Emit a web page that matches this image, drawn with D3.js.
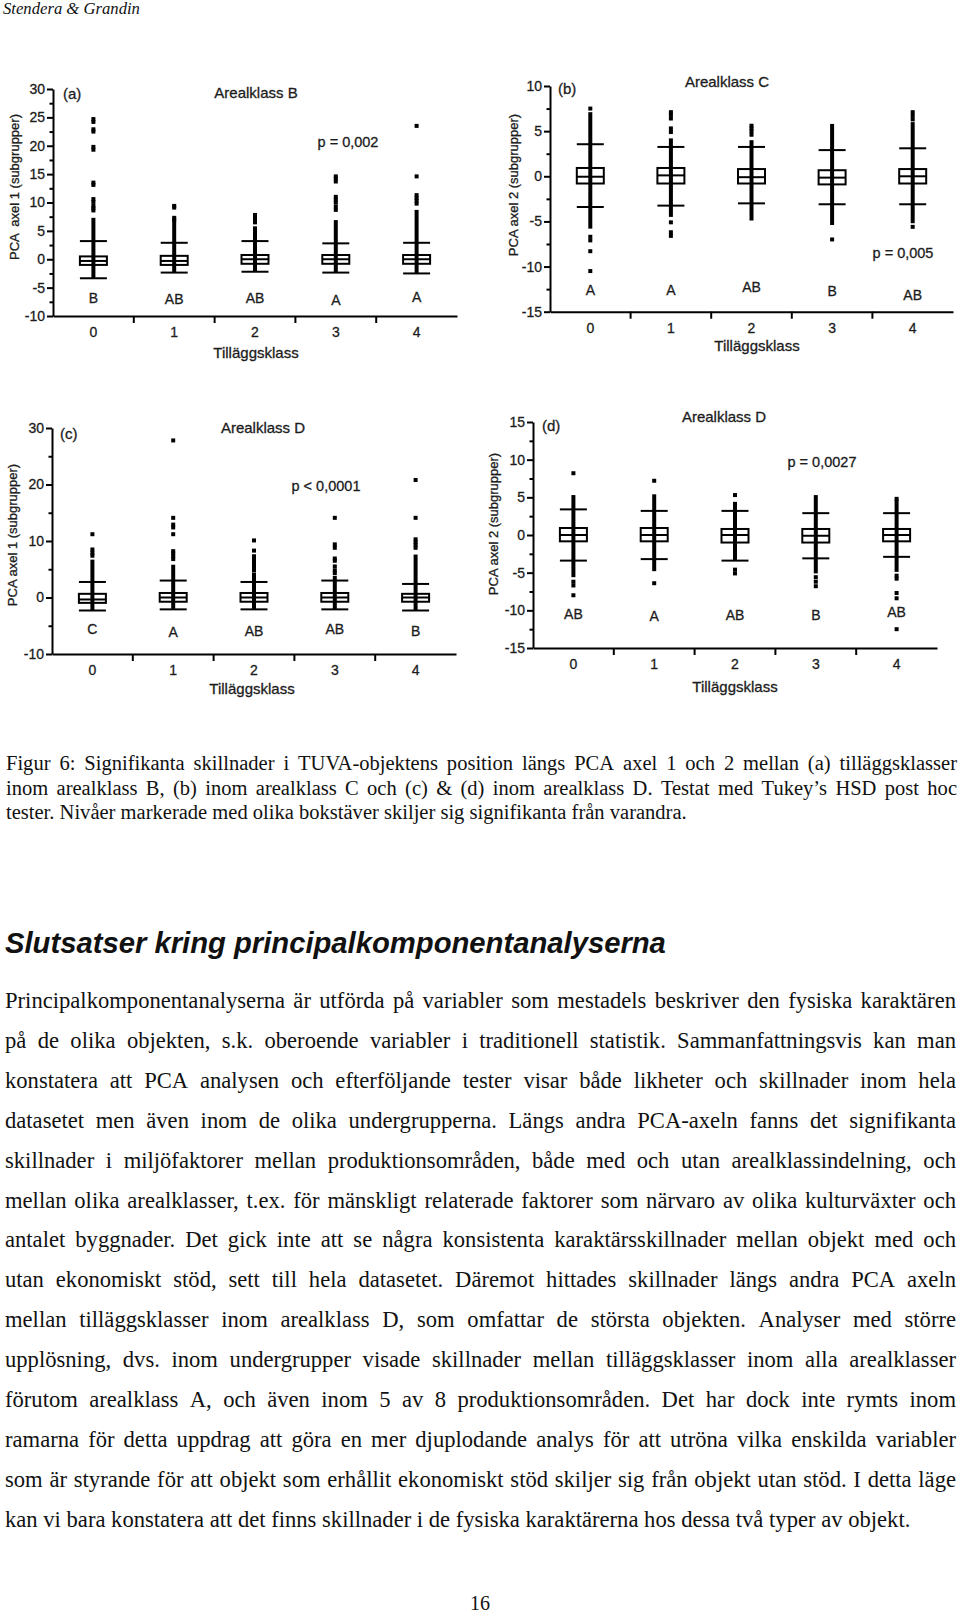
<!DOCTYPE html>
<html>
<head>
<meta charset="utf-8">
<script src="https://cdn.jsdelivr.net/npm/d3@7/dist/d3.min.js"></script>
<style>
  body { margin: 0; background: #fff; }
  svg { display: block; }
  .chart text { font-family: "Liberation Sans", Arial, sans-serif; fill: #1c1c1c; stroke: #1c1c1c; stroke-width: 0.3px; }
  .page text { fill: #111; }
</style>
</head>
<body>
<script>
// categories (tilläggsklass)
var cats = ["0", "1", "2", "3", "4"];

// box stats per class: [lower whisker, q1, median, q3, upper whisker]
var boxesA = [[-3.35, -1.0, -0.3, 0.5, 3.2], [-2.35, -1.0, -0.3, 0.6, 2.9], [-2.2, -0.8, 0, 0.75, 3.2], [-2.35, -0.8, 0, 0.75, 2.8], [-2.5, -0.8, 0, 0.75, 2.9]];
var boxesB = [[-3.4, -0.8, -0.05, 0.92, 3.55], [-3.25, -0.8, 0.1, 0.92, 3.25], [-3.0, -0.8, -0.1, 0.8, 3.25], [-3.1, -0.9, -0.15, 0.67, 2.9], [-3.1, -0.8, 0, 0.8, 3.1]];
var boxesC = [[-2.3, -0.95, -0.35, 0.65, 2.75], [-2.1, -0.75, 0, 0.8, 3.0], [-2.1, -0.75, 0, 0.8, 2.75], [-2.1, -0.75, 0, 0.8, 3.0], [-2.3, -0.75, 0, 0.65, 2.4]];
var boxesD = [[-3.4, -0.84, 0, 0.93, 3.4], [-3.2, -0.84, 0, 0.93, 3.2], [-3.4, -1.0, 0, 0.8, 3.2], [-3.1, -1.0, -0.1, 0.8, 2.9], [-2.9, -0.84, 0, 0.8, 2.9]];

// range where the single points overlap into a solid bar
var denseA = [[-3.35, 7.3], [-2.35, 6.9], [-2.2, 5.8], [-2.35, 6.9], [-2.5, 8.7]];
var denseB = [[-5.8, 7.1], [-4.5, 4.2], [-4.9, 4.0], [-5.4, 5.8], [-5.2, 6.0]];
var denseC = [[-2.3, 6.7], [-2.1, 5.8], [-2.1, 4.4], [-2.1, 3.8], [-2.3, 7.6]];
var denseD = [[-5.6, 5.3], [-4.8, 5.4], [-3.4, 4.4], [-5.1, 5.3], [-4.9, 4.7]];

// separate points
var dotsA = [
  [8.6, 9.0, 9.4, 10.1, 10.6, 13.1, 13.5, 19.3, 19.8, 22.5, 22.9, 24.2, 24.7],
  [7.0, 7.3, 9.1, 9.4],
  [6.5, 7.0, 7.4, 7.8],
  [8.7, 9.3, 10.0, 10.5, 11.0, 13.7, 14.2, 14.6],
  [9.8, 10.3, 10.8, 11.3, 14.6, 23.5]
];
var dotsB = [
  [7.5, -6.7, -7.1, -8.3, -10.5],
  [7.1, 6.8, 6.4, 5.3, 4.9, -5.1, -6.2, -6.6],
  [5.6, 5.3, 5.0, 4.6],
  [-7.0],
  [7.1, 6.7, 6.3, -5.6]
];
var dotsC = [
  [7.4, 7.9, 8.5, 11.2],
  [6.8, 7.3, 7.8, 8.2, 11.2, 12.4, 12.9, 14.1, 27.8],
  [4.8, 5.3, 5.8, 6.3, 6.8, 7.3, 8.3, 10.1],
  [4.3, 4.8, 5.5, 6.5, 6.9, 8.8, 9.4, 14.1],
  [8.8, 9.3, 9.8, 10.3, 14.1, 20.8]
];
var dotsD = [
  [8.2, -6.2, -6.7, -8.0],
  [7.2, -6.4],
  [5.3, -4.6, -5.1],
  [-5.6, -6.2, -6.8],
  [4.8, -5.4, -5.8, -7.7, -8.4, -12.5]
];

// tukey letters
var lettersA = ["B", "AB", "AB", "A", "A"];
var lettersB = ["A", "A", "AB", "B", "AB"];
var lettersC = ["C", "A", "AB", "AB", "B"];
var lettersD = ["AB", "A", "AB", "B", "AB"];

// y tick values
var ticksA = [-10, -5, 0, 5, 10, 15, 20, 25, 30];
var minorA = [-7.5, -2.5, 2.5, 7.5, 12.5, 17.5, 22.5, 27.5];
var ticksB = [-15, -10, -5, 0, 5, 10];
var minorB = [-12.5, -7.5, -2.5, 2.5, 7.5];
var ticksC = [-10, 0, 10, 20, 30];
var minorC = [-5, 5, 15, 25];
var ticksD = [-15, -10, -5, 0, 5, 10, 15];
var minorD = [-12.5, -7.5, -2.5, 2.5, 7.5, 12.5];

// page text
var headerText = "Stendera & Grandin";
var captionLines = [
  "Figur 6: Signifikanta skillnader i TUVA-objektens position längs PCA axel 1 och 2 mellan (a) tilläggsklasser",
  "inom arealklass B, (b) inom arealklass C och (c) & (d) inom arealklass D. Testat med Tukey’s HSD post hoc",
  "tester. Nivåer markerade med olika bokstäver skiljer sig signifikanta från varandra."
];
var headingText = "Slutsatser kring principalkomponentanalyserna";
var bodyLines = [
  "Principalkomponentanalyserna är utförda på variabler som mestadels beskriver den fysiska karaktären",
  "på de olika objekten, s.k. oberoende variabler i traditionell statistik. Sammanfattningsvis kan man",
  "konstatera att PCA analysen och efterföljande tester visar både likheter och skillnader inom hela",
  "datasetet men även inom de olika undergrupperna. Längs andra PCA-axeln fanns det signifikanta",
  "skillnader i miljöfaktorer mellan produktionsområden, både med och utan arealklassindelning, och",
  "mellan olika arealklasser, t.ex. för mänskligt relaterade faktorer som närvaro av olika kulturväxter och",
  "antalet byggnader. Det gick inte att se några konsistenta karaktärsskillnader mellan objekt med och",
  "utan ekonomiskt stöd, sett till hela datasetet. Däremot hittades skillnader längs andra PCA axeln",
  "mellan tilläggsklasser inom arealklass D, som omfattar de största objekten. Analyser med större",
  "upplösning, dvs. inom undergrupper visade skillnader mellan tilläggsklasser inom alla arealklasser",
  "förutom arealklass A, och även inom 5 av 8 produktionsområden. Det har dock inte rymts inom",
  "ramarna för detta uppdrag att göra en mer djuplodande analys för att utröna vilka enskilda variabler",
  "som är styrande för att objekt som erhållit ekonomiskt stöd skiljer sig från objekt utan stöd. I detta läge",
  "kan vi bara konstatera att det finns skillnader i de fysiska karaktärerna hos dessa två typer av objekt."
];
var pageNumber = "16";

var width = 960, height = 1613;

var svg = d3.select("body").append("svg")
  .attr("width", width)
  .attr("height", height);

//panel layout
var panels = [
  { tag: "(a)", title: "Arealklass B", p: "p = 0,002", yLabel: "PCA  axel 1 (subgrupper)",
    boxes: boxesA, dense: denseA, dots: dotsA, letters: lettersA, ticks: ticksA, minor: minorA,
    domain: [-10, 30], x0: 53, x1: 457, top: 89, bottom: 316,
    tagX: 63, tagY: 94, titleX: 256, titleY: 93, pX: 348, pY: 142,
    letterAt: [-6.9, -7.0, -6.9, -7.2, -6.6], yLabX: 14, yLabY: 187, xLabX: 256, xLabY: 353 },
  { tag: "(b)", title: "Arealklass C", p: "p = 0,005", yLabel: "PCA axel 2 (subgrupper)",
    boxes: boxesB, dense: denseB, dots: dotsB, letters: lettersB, ticks: ticksB, minor: minorB,
    domain: [-15, 10], x0: 550, x1: 953, top: 86, bottom: 311.7,
    tagX: 558, tagY: 89, titleX: 727, titleY: 82, pX: 903, pY: 253,
    letterAt: [-12.6, -12.6, -12.3, -12.7, -13.2], yLabX: 513, yLabY: 185, xLabX: 757, xLabY: 346 },
  { tag: "(c)", title: "Arealklass D", p: "p < 0,0001", yLabel: "PCA axel 1 (subgrupper)",
    boxes: boxesC, dense: denseC, dots: dotsC, letters: lettersC, ticks: ticksC, minor: minorC,
    domain: [-10, 30], x0: 52, x1: 456, top: 428, bottom: 654,
    tagX: 60, tagY: 434, titleX: 263, titleY: 428, pX: 326, pY: 486,
    letterAt: [-5.65, -6.05, -5.95, -5.65, -5.95], yLabX: 12, yLabY: 535, xLabX: 252, xLabY: 689 },
  { tag: "(d)", title: "Arealklass D", p: "p = 0,0027", yLabel: "PCA axel 2 (subgrupper)",
    boxes: boxesD, dense: denseD, dots: dotsD, letters: lettersD, ticks: ticksD, minor: minorD,
    domain: [-15, 15], x0: 533, x1: 937, top: 422, bottom: 648,
    tagX: 542, tagY: 426, titleX: 724, titleY: 417, pX: 822, pY: 462,
    letterAt: [-10.45, -10.8, -10.65, -10.65, -10.2], yLabX: 493, yLabY: 524, xLabX: 735, xLabY: 687 }
];

panels.forEach(drawPanel);
drawPage();

function drawPanel(cfg) {
  var g = svg.append("g").attr("class", "chart");

  var x = d3.scaleBand()
    .domain(cats)
    .range([cfg.x0, cfg.x1]);

  var y = d3.scaleLinear()
    .domain(cfg.domain)
    .range([cfg.bottom, cfg.top]);

  var half = 13.5;

  //minor ticks first, then the main axis on top
  g.append("g")
    .attr("transform", "translate(" + cfg.x0 + ",0)")
    .call(d3.axisLeft(y).tickValues(cfg.minor).tickSize(3.5).tickSizeOuter(0).tickFormat(""))
    .call(function(a) { a.select(".domain").remove(); a.selectAll("line").attr("stroke-width", 2); });

  g.append("g")
    .attr("transform", "translate(" + cfg.x0 + ",0)")
    .call(d3.axisLeft(y).tickValues(cfg.ticks).tickSize(6).tickSizeOuter(0).tickPadding(2)
      .tickFormat(function(d) { return String(d); }))
    .call(function(a) {
      a.select(".domain").attr("stroke-width", 2);
      a.selectAll("line").attr("stroke-width", 2);
      a.selectAll("text").attr("font-size", 14).attr("font-family", null);
    });

  //x axis: labels from the band scale, ticks on the band borders
  g.append("g")
    .attr("transform", "translate(0," + cfg.bottom + ")")
    .call(d3.axisBottom(x).tickSize(0).tickSizeOuter(0).tickPadding(11))
    .call(function(a) {
      a.select(".domain").attr("stroke-width", 2);
      a.selectAll("text").attr("font-size", 14).attr("font-family", null);
    });

  g.selectAll(".xtick")
    .data(cats.slice(1))
    .enter().append("line")
    .attr("x1", function(d) { return x(d); })
    .attr("x2", function(d) { return x(d); })
    .attr("y1", cfg.bottom)
    .attr("y2", cfg.bottom + 7)
    .attr("stroke", "#000")
    .attr("stroke-width", 2);

  var grp = g.selectAll(".grp")
    .data(cats)
    .enter().append("g")
    .attr("transform", function(d) { return "translate(" + (x(d) + x.bandwidth() / 2) + ",0)"; });

  //whisker line
  grp.append("line")
    .attr("y1", function(d, i) { return y(cfg.boxes[i][0]); })
    .attr("y2", function(d, i) { return y(cfg.boxes[i][4]); })
    .attr("stroke", "#000")
    .attr("stroke-width", 2.5);

  //solid band of overlapping points
  grp.append("line")
    .attr("y1", function(d, i) { return y(cfg.dense[i][0]); })
    .attr("y2", function(d, i) { return y(cfg.dense[i][1]); })
    .attr("stroke", "#000")
    .attr("stroke-width", 4);

  //box
  grp.append("rect")
    .attr("x", -half)
    .attr("width", half * 2)
    .attr("y", function(d, i) { return y(cfg.boxes[i][3]); })
    .attr("height", function(d, i) { return y(cfg.boxes[i][1]) - y(cfg.boxes[i][3]); })
    .attr("fill", "none")
    .attr("stroke", "#000")
    .attr("stroke-width", 2);

  //median and whisker caps
  [0, 2, 4].forEach(function(k) {
    grp.append("line")
      .attr("x1", -half)
      .attr("x2", half)
      .attr("y1", function(d, i) { return y(cfg.boxes[i][k]); })
      .attr("y2", function(d, i) { return y(cfg.boxes[i][k]); })
      .attr("stroke", "#000")
      .attr("stroke-width", 2);
  });

  //single points
  grp.selectAll(".dot")
    .data(function(d, i) { return cfg.dots[i]; })
    .enter().append("rect")
    .attr("x", -2)
    .attr("width", 4)
    .attr("y", function(v) { return y(v) - 2; })
    .attr("height", 4)
    .attr("fill", "#000");

  //letters
  grp.append("text")
    .attr("y", function(d, i) { return y(cfg.letterAt[i]); })
    .attr("dy", "0.35em")
    .attr("text-anchor", "middle")
    .attr("font-size", 14)
    .text(function(d, i) { return cfg.letters[i]; });

  g.append("text")
    .attr("x", cfg.tagX).attr("y", cfg.tagY).attr("dy", "0.35em")
    .attr("font-size", 15)
    .text(cfg.tag);

  g.append("text")
    .attr("x", cfg.titleX).attr("y", cfg.titleY).attr("dy", "0.35em")
    .attr("text-anchor", "middle")
    .attr("font-size", 15)
    .text(cfg.title);

  g.append("text")
    .attr("x", cfg.pX).attr("y", cfg.pY).attr("dy", "0.35em")
    .attr("text-anchor", "middle")
    .attr("font-size", 14.5)
    .text(cfg.p);

  g.append("text")
    .attr("transform", "translate(" + cfg.yLabX + "," + cfg.yLabY + ") rotate(-90)")
    .attr("dy", "0.35em")
    .attr("text-anchor", "middle")
    .attr("font-size", 13)
    .attr("xml:space", "preserve")
    .text(cfg.yLabel);

  g.append("text")
    .attr("x", cfg.xLabX).attr("y", cfg.xLabY).attr("dy", "0.35em")
    .attr("text-anchor", "middle")
    .attr("font-size", 15)
    .text("Tilläggsklass");
}

//size a font so that a given string fills a given width
function fitSize(g, str, family, style, weight, target) {
  var t = g.append("text")
    .attr("font-family", family).attr("font-style", style).attr("font-weight", weight)
    .attr("font-size", 20).text(str);
  var w = t.node().getComputedTextLength();
  t.remove();
  return 20 * target / w;
}

//one line of text, spread from x0 to x1 when justify is set
function textLine(g, str, x0, x1, y, justify) {
  var t = g.append("text").attr("y", y);
  if (!justify) {
    t.attr("x", x0).text(str);
    return;
  }
  var words = str.split(" ");
  var spans = t.selectAll("tspan").data(words).enter().append("tspan").text(function(d) { return d; });
  var widths = [];
  spans.each(function() { widths.push(this.getComputedTextLength()); });
  var gap = (x1 - x0 - d3.sum(widths)) / (words.length - 1);
  var pos = x0;
  spans.attr("x", function(d, i) {
    var p = pos;
    pos += widths[i] + gap;
    return p;
  });
}

function drawPage() {
  var g = svg.append("g").attr("class", "page");
  var serif = "'Liberation Serif', 'Times New Roman', serif";
  var sans = "'Liberation Sans', Arial, sans-serif";

  //running header
  var hs = fitSize(g, headerText, serif, "italic", "normal", 137);
  g.append("text")
    .attr("x", 3).attr("y", 14)
    .attr("font-family", serif).attr("font-style", "italic").attr("font-size", hs)
    .text(headerText);

  //figure caption
  var cs = fitSize(g, captionLines[2], serif, "normal", "normal", 681);
  var cap = g.append("g").attr("font-family", serif).attr("font-size", cs);
  captionLines.forEach(function(line, i) {
    textLine(cap, line, 6, 957, 770 + i * 24.5, i < captionLines.length - 1);
  });

  //section heading
  var ts = fitSize(g, headingText, sans, "italic", "bold", 661);
  g.append("text")
    .attr("x", 5).attr("y", 953)
    .attr("font-family", sans).attr("font-style", "italic").attr("font-weight", "bold")
    .attr("font-size", ts)
    .text(headingText);

  //body paragraph
  var bs = fitSize(g, bodyLines[bodyLines.length - 1], serif, "normal", "normal", 906);
  var body = g.append("g").attr("font-family", serif).attr("font-size", bs);
  bodyLines.forEach(function(line, i) {
    textLine(body, line, 5, 956, 1008 + i * 39.9, i < bodyLines.length - 1);
  });

  g.append("text")
    .attr("x", 480).attr("y", 1610)
    .attr("text-anchor", "middle")
    .attr("font-family", serif).attr("font-size", 20)
    .text(pageNumber);
}
</script>
</body>
</html>
